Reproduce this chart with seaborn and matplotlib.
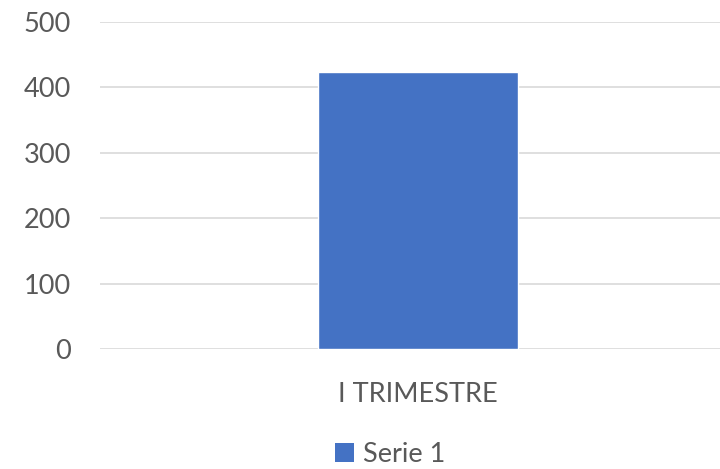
import matplotlib
matplotlib.use("Agg")
import matplotlib.pyplot as plt
import seaborn as sns
import pandas as pd
from matplotlib.patches import Patch

categories = ["I TRIMESTRE"]
values = [424]
series_name = "Serie 1"
yticks = [0, 100, 200, 300, 400, 500]

sns.set_theme(style="white")
plt.rcParams['font.family'] = ['Lato', 'DejaVu Sans']

df = pd.DataFrame({"cat": categories, "val": values})

fig = plt.figure(figsize=(7.2, 4.69), dpi=100)
ax = fig.add_axes([100/720, 1-349/469, 636/720, (349-22)/469])
sns.barplot(data=df, x="cat", y="val", color="#4472C4", width=0.3145, ax=ax,
            saturation=1, zorder=3)
ax.set_ylim(0, 500)
ax.set_yticks(yticks)
ax.set_xlim(-0.5, 0.5)
ax.yaxis.grid(True, color="#d9d9d9", linewidth=1.2, zorder=0)
ax.set_axisbelow(True)
for s in ax.spines.values():
    s.set_visible(False)
ax.set_xlabel("")
ax.set_ylabel("")
ax.tick_params(axis="both", length=0, labelsize=19.5, labelcolor="#595959")
ax.tick_params(axis="y", pad=21)
ax.tick_params(axis="x", pad=23.5)

handles = [Patch(facecolor="#4472C4", edgecolor="none", label=series_name)]
fig.legend(handles=handles, loc="center", bbox_to_anchor=(390/720, 1-454/469),
           frameon=False, fontsize=19.5, labelcolor="#595959",
           handlelength=0.7, handleheight=0.7, handletextpad=0.35,
           borderpad=0, borderaxespad=0)

fig.savefig("out.png", dpi=100)
